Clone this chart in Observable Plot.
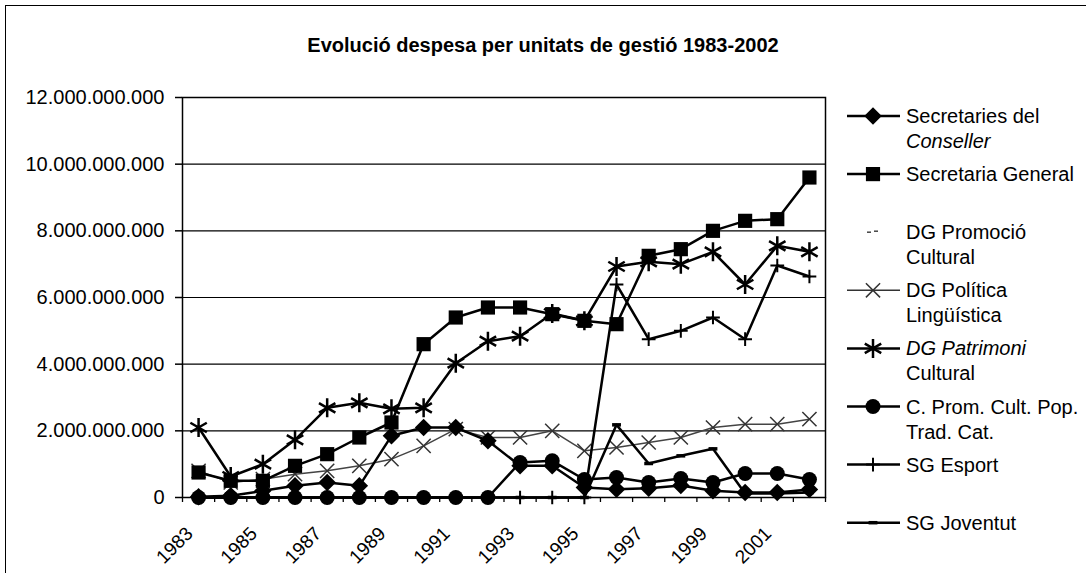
<!DOCTYPE html>
<html><head><meta charset="utf-8">
<script src="https://cdn.jsdelivr.net/npm/d3@7"></script>
<script src="https://cdn.jsdelivr.net/npm/@observablehq/plot@0.6"></script>
<style>
html,body{margin:0;padding:0;background:#fff;}
body{width:1086px;height:573px;position:relative;overflow:hidden;font-family:"Liberation Sans",Arial,sans-serif;color:#000;}
#frame{position:absolute;left:5px;top:5px;width:1100px;height:600px;border-top:1.5px solid #000;border-left:1.5px solid #000;}
#chart{position:absolute;left:0;top:0;}
#title{position:absolute;left:0;width:1086px;top:34px;text-align:center;font-weight:bold;font-size:20px;}
#legend{position:absolute;left:840px;top:0;}
</style></head><body>
<div id="frame"></div>
<div id="chart"></div>
<div id="title">Evolució despesa per unitats de gestió 1983-2002</div>
<div id="legend"></div>
<script>
// ---- data (pessetes) ----
const years = [1983,1984,1985,1986,1987,1988,1989,1990,1991,1992,1993,1994,1995,1996,1997,1998,1999,2000,2001,2002];
const secretariesConseller = [0.02e9,0.05e9,0.2e9,0.35e9,0.45e9,0.35e9,1.85e9,2.1e9,2.1e9,1.7e9,0.95e9,0.95e9,0.3e9,0.25e9,0.28e9,0.36e9,0.2e9,0.15e9,0.15e9,0.24e9];
const secretariaGeneral = [0.75e9,0.5e9,0.5e9,0.95e9,1.3e9,1.8e9,2.25e9,4.6e9,5.4e9,5.7e9,5.7e9,5.5e9,5.3e9,5.2e9,7.25e9,7.45e9,8.0e9,8.3e9,8.35e9,9.6e9];
const politicaLinguistica = [0.8e9,0.45e9,0.55e9,0.7e9,0.8e9,0.95e9,1.15e9,1.55e9,2.05e9,1.8e9,1.8e9,2.0e9,1.4e9,1.5e9,1.65e9,1.8e9,2.1e9,2.2e9,2.2e9,2.35e9];
const patrimoniCultural = [2.1e9,0.63e9,1.0e9,1.73e9,2.69e9,2.84e9,2.66e9,2.69e9,4.03e9,4.69e9,4.84e9,5.52e9,5.3e9,6.93e9,7.07e9,7.0e9,7.37e9,6.39e9,7.55e9,7.37e9];
const culturaPopular = [0,0,0,0,0,0,0,0,0,0,1.05e9,1.1e9,0.54e9,0.6e9,0.45e9,0.57e9,0.45e9,0.72e9,0.72e9,0.54e9];
const esport = [0,0,0,0,0,0,0,0,0,0,0,0,0,6.39e9,4.75e9,5.0e9,5.4e9,4.75e9,6.96e9,6.63e9];
const joventut = [0,0,0,0,0,0,0,0,0,0,0,0,0,2.18e9,1.02e9,1.25e9,1.46e9,0.12e9,0.12e9,0.15e9];
const yTicks = [0,2e9,4e9,6e9,8e9,10e9,12e9];
const xLabelYears = [1983,1985,1987,1989,1991,1993,1995,1997,1999,2001];
const legendLabels = [
  [["Secretaries del",false],["Conseller",true]],
  [["Secretaria General",false]],
  [["DG Promoció",false],["Cultural",false]],
  [["DG Política",false],["Lingüística",false]],
  [["DG Patrimoni",true],["Cultural",false]],
  [["C. Prom. Cult. Pop.",false],["Trad. Cat.",false]],
  [["SG Esport",false]],
  [["SG Joventut",false]]
];

// ---- symbols ----
const diamondSym = {draw(ctx, size){ const r = Math.sqrt(size/2); ctx.moveTo(0,-r); ctx.lineTo(r,0); ctx.lineTo(0,r); ctx.lineTo(-r,0); ctx.closePath(); }};
const dashSym = {draw(ctx, size){ const r = Math.sqrt(size)*0.5; ctx.moveTo(-r,0); ctx.lineTo(r,0); }};

const rowsOf = arr => years.map((yr,i)=>({year:yr, value:arr[i]}));
const boundaries = d3.range(1982.5, 2003, 1);
const fmt = d => d3.format(",")(d).replace(/,/g,".");

const lineOpts = {x:"year", y:"value", stroke:"black", strokeWidth:2.5};
const chart = Plot.plot({
  width: 840, height: 573,
  marginLeft: 182, marginRight: 15, marginTop: 97, marginBottom: 76,
  style: {fontFamily:"'Liberation Sans', Arial, sans-serif", fontSize:"20px", background:"transparent", color:"#000", overflow:"visible"},
  x: {type:"linear", domain:[1982.5, 2002.5]},
  y: {domain:[0, 12e9]},
  marks: [
    Plot.gridY(yTicks, {stroke:"black", strokeOpacity:1, strokeWidth:1.2}),
    Plot.frame({stroke:"black", strokeWidth:1.5}),
    Plot.axisY(yTicks, {tickSize:7, tickPadding:11, tickFormat:fmt, fontSize:20, label:null, strokeWidth:1.5}),
    Plot.axisX(boundaries, {tickSize:5, tickFormat:()=>"", label:null, strokeWidth:1.3}),
    Plot.axisX(xLabelYears, {tickSize:0, tickPadding:33, dx:-9, tickRotate:-45, tickFormat:d=>String(d), fontSize:19, label:null}),
    Plot.line(rowsOf(politicaLinguistica), {x:"year", y:"value", stroke:"#444", strokeWidth:1.5}),
    Plot.dot(rowsOf(politicaLinguistica), {x:"year", y:"value", symbol:"times", r:6.5, stroke:"#333", strokeWidth:1.5}),
    Plot.line(rowsOf(joventut), lineOpts),
    Plot.dot(rowsOf(joventut), {x:"year", y:"value", symbol:dashSym, r:5, stroke:"black", strokeWidth:3.5}),
    Plot.line(rowsOf(esport), lineOpts),
    Plot.dot(rowsOf(esport), {x:"year", y:"value", symbol:"plus", r:4.5, stroke:"black", strokeWidth:2}),
    Plot.line(rowsOf(culturaPopular), lineOpts),
    Plot.dot(rowsOf(culturaPopular), {x:"year", y:"value", symbol:"circle", r:7.5, fill:"black"}),
    Plot.line(rowsOf(secretariesConseller), lineOpts),
    Plot.dot(rowsOf(secretariesConseller), {x:"year", y:"value", symbol:diamondSym, r:7, fill:"black"}),
    Plot.line(rowsOf(patrimoniCultural), lineOpts),
    Plot.dot(rowsOf(patrimoniCultural), {x:"year", y:"value", symbol:"asterisk", r:9, stroke:"black", strokeWidth:2.5}),
    Plot.line(rowsOf(secretariaGeneral), lineOpts),
    Plot.dot(rowsOf(secretariaGeneral), {x:"year", y:"value", symbol:"square", r:8, fill:"black"})
  ]
});
document.getElementById("chart").appendChild(chart);

// ---- legend ----
const lw = 246, lh = 573;
const svg = d3.select("#legend").append("svg").attr("width", lw).attr("height", lh)
  .style("font-family","'Liberation Sans', Arial, sans-serif").style("font-size","20px");
const symFor = [
  {sym: diamondSym, fill:true, r:7},
  {sym: d3.symbolSquare, fill:true, r:8},
  null,
  {sym: d3.symbolTimes, fill:false, r:6.5, color:"#333", sw:1.5},
  {sym: d3.symbolAsterisk, fill:false, r:9, sw:2.5},
  {sym: d3.symbolCircle, fill:true, r:7.5},
  {sym: d3.symbolPlus, fill:false, r:4.5, sw:2},
  {sym: dashSym, fill:false, r:5, sw:3.5}
];
legendLabels.forEach((lines, i) => {
  const y = 116 + i*58.1;
  const g = svg.append("g");
  const s = symFor[i];
  if (s) {
    g.append("line").attr("x1",7).attr("x2",60).attr("y1",y).attr("y2",y)
      .attr("stroke", i===3 ? "#333" : "black").attr("stroke-width", i===3 ? 1.5 : 2.5);
    const path = d3.symbol(s.sym, Math.PI*s.r*s.r)();
    const p = g.append("path").attr("d", path).attr("transform", `translate(33,${y})`);
    if (s.fill) p.attr("fill","black");
    else p.attr("fill","none").attr("stroke", s.color||"black").attr("stroke-width", s.sw);
  } else {
    g.append("line").attr("x1",27).attr("x2",31).attr("y1",y).attr("y2",y).attr("stroke","#444").attr("stroke-width",1.5);
    g.append("line").attr("x1",34).attr("x2",38).attr("y1",y-1).attr("y2",y-1).attr("stroke","#444").attr("stroke-width",1.5);
  }
  lines.forEach(([t, it], j) => {
    g.append("text").attr("x",66).attr("y", y + 7 + j*25).text(t)
      .attr("font-style", it ? "italic" : "normal");
  });
});
</script>
</body></html>
